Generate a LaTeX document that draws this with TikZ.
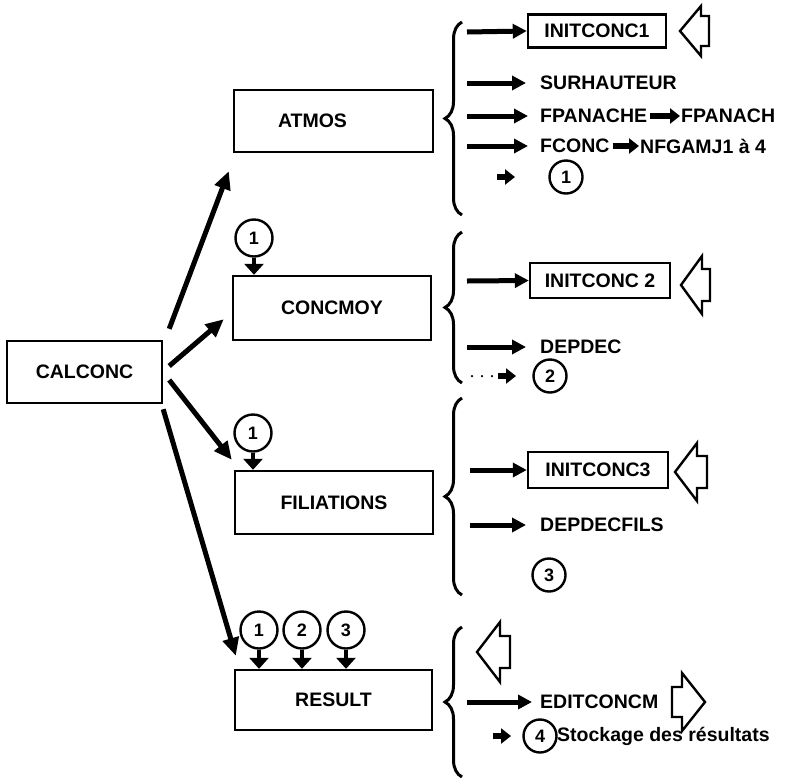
\documentclass[tikz,border=0pt]{standalone}
\usepackage{fontspec}
\setmainfont{Liberation Sans}
\usetikzlibrary{arrows.meta,decorations.pathreplacing}
\begin{document}
\begin{tikzpicture}[x=1pt,y=-1pt]
\tikzset{
 lbl/.style={font=\bfseries\fontsize{19.5}{21}\selectfont},
 box/.style={draw, line width=2.4pt, inner sep=0pt, lbl},
 circ/.style={draw, circle, line width=2.4pt, minimum size=37pt, inner sep=0pt, font=\bfseries\fontsize{18}{18}\selectfont},
 rcirc/.style={circ, minimum size=33pt},
 bigarr/.style={line width=5pt, -{Triangle[length=18pt,width=16pt]}},
 medarr/.style={line width=5pt, -{Triangle[length=14pt,width=14pt]}},
 smallarr/.style={line width=6pt, -{Triangle[length=10pt,width=15pt]}},
 downarr/.style={line width=4.5pt, -{Triangle[length=11pt,width=19pt]}},
 hollow/.style={draw, line width=2.4pt, line join=miter},
 brc/.style={decorate, decoration={brace, amplitude=17pt}, line width=3pt},
 item/.style={lbl, anchor=west, inner sep=0pt},
 dots/.style={line width=2.5pt, line cap=round, dash pattern=on 0pt off 10pt},
}
\useasboundingbox (0,0) rectangle (795,780);

% main boxes
\node[box, minimum width=155pt, minimum height=62pt] (calconc) at (84.5,372) {CALCONC};
\node[box, minimum width=199pt, minimum height=62pt] (atmos) at (333.5,121) {ATMOS\rule{42pt}{0pt}};
\node[box, minimum width=198pt, minimum height=64pt] (concmoy) at (332,308) {CONCMOY};
\node[box, minimum width=198pt, minimum height=63pt] (filiations) at (334,502.5) {FILIATIONS};
\node[box, minimum width=197pt, minimum height=60pt] (result) at (333.5,700) {RESULT};

% main arrows
\draw[bigarr] ([shift={(6,-11)}]calconc.north east) -- ([shift={(-4,18)}]atmos.south west);
\draw[bigarr] ([shift={(6,-6)}]calconc.east) -- ([shift={(-8,-22)}]concmoy.south west);
\draw[bigarr] ([shift={(6,8)}]calconc.east) -- ([shift={(-2,-10)}]filiations.north west);
\draw[bigarr] ([shift={(0,5)}]calconc.south east) -- ([shift={(2,-13)}]result.north west);

% circles feeding boxes
\node[circ] (c1a) at (254,238) {1};
\draw[downarr] (c1a.south) -- (c1a.south |- concmoy.north);
\node[circ] (c1b) at (253,433) {1};
\draw[downarr] (c1b.south) -- (c1b.south |- filiations.north);
\node[circ] (c1c) at (259,630) {1};
\node[circ] (c2c) at (302,630) {2};
\node[circ] (c3c) at (346,630) {3};
\draw[downarr] (c1c.south) -- (c1c.south |- result.north);
\draw[downarr] (c2c.south) -- (c2c.south |- result.north);
\draw[downarr] (c3c.south) -- (c3c.south |- result.north);

% ---------- group 1 (ATMOS)
\draw[brc] (462,215) -- (462,22);
\coordinate (g1a) at (467,32);
\node[box, minimum width=138pt, minimum height=33pt] (ic1) at (597,31) {INITCONC1};
\draw[medarr] (g1a) -- (ic1.west);
\draw[hollow] (680,31) -- (701,6) -- (701,16) -- (709,16) -- (709,46) -- (701,46) -- (701,56) -- cycle;
\coordinate (g1b) at (467,83);
\node[item] (surh) at (540,83) {SURHAUTEUR};
\draw[medarr] (g1b) -- ([xshift=-14pt]surh.west);
\coordinate (g1c) at (467,116);
\node[item] (fpa1) at (540,116) {FPANACHE};
\node[item] (fpa2) at (681,116) {FPANACH};
\draw[medarr] (g1c) -- ([xshift=-12pt]fpa1.west);
\draw[smallarr] ([xshift=3pt]fpa1.east) -- ([xshift=-1pt]fpa2.west);
\coordinate (g1d) at (467,146);
\node[item] (fconc) at (540,146) {FCONC};
\node[item] (nfg) at (640,146) {NFGAMJ1 à 4};
\draw[medarr] (g1d) -- ([xshift=-12pt]fconc.west);
\draw[smallarr] ([xshift=3pt]fconc.east) -- ([xshift=-1pt]nfg.west);
\coordinate (g1e) at (497,177);
\coordinate (g1f) at (515,177);
\draw[smallarr] (g1e) -- (g1f);
\node[rcirc] (r1) at (566,177) {1};

% ---------- group 2 (CONCMOY)
\draw[brc] (462,383) -- (462,232);
\coordinate (g2a) at (467,281);
\node[box, minimum width=140pt, minimum height=35pt] (ic2) at (600,280.5) {INITCONC 2};
\draw[medarr] (g2a) -- (ic2.west);
\draw[hollow] (681,285) -- (702,256) -- (702,269) -- (710,269) -- (710,301) -- (702,301) -- (702,314) -- cycle;
\coordinate (g2b) at (467,347);
\node[item] (depdec) at (540,347) {DEPDEC};
\draw[medarr] (g2b) -- ([xshift=-14pt]depdec.west);
\coordinate (g2c) at (472,376);
\coordinate (g2d) at (494,376);
\draw[dots] (g2c) -- (g2d);
\coordinate (g2e) at (498,376);
\coordinate (g2f) at (516,376);
\draw[smallarr] (g2e) -- (g2f);
\node[rcirc] (r2) at (550,376) {2};

% ---------- group 3 (FILIATIONS)
\draw[brc] (462,595) -- (462,398);
\coordinate (g3a) at (470,470);
\node[box, minimum width=140pt, minimum height=36pt] (ic3) at (598,470) {INITCONC3};
\draw[medarr] (g3a) -- (ic3.west);
\draw[hollow] (675,472) -- (697,443) -- (697,456) -- (707,456) -- (707,488) -- (697,488) -- (697,501) -- cycle;
\coordinate (g3b) at (470,525);
\node[item] (depfils) at (540,525) {DEPDECFILS};
\draw[medarr] (g3b) -- ([xshift=-14pt]depfils.west);
\node[rcirc] (r3) at (549,575) {3};

% ---------- group 4 (RESULT)
\draw[brc] (462,777) -- (462,627);
\draw[hollow] (477,652) -- (500,622) -- (500,636) -- (510,636) -- (510,668) -- (500,668) -- (500,682) -- cycle;
\coordinate (g4a) at (467,702);
\node[item] (edit) at (540,702) {EDITCONCM};
\draw[medarr] (g4a) -- ([xshift=-8pt]edit.west);
\coordinate (g4b) at (493,736);
\coordinate (g4c) at (511,736);
\draw[smallarr] (g4b) -- (g4c);
\node[rcirc] (r4) at (540,736) {4};
\node[item] (stock) at (557,736) {Stockage des résultats};
\draw[hollow] (705,702) -- (682,673) -- (682,687) -- (672,687) -- (672,717) -- (682,717) -- (682,731) -- cycle;
\end{tikzpicture}
\end{document}
